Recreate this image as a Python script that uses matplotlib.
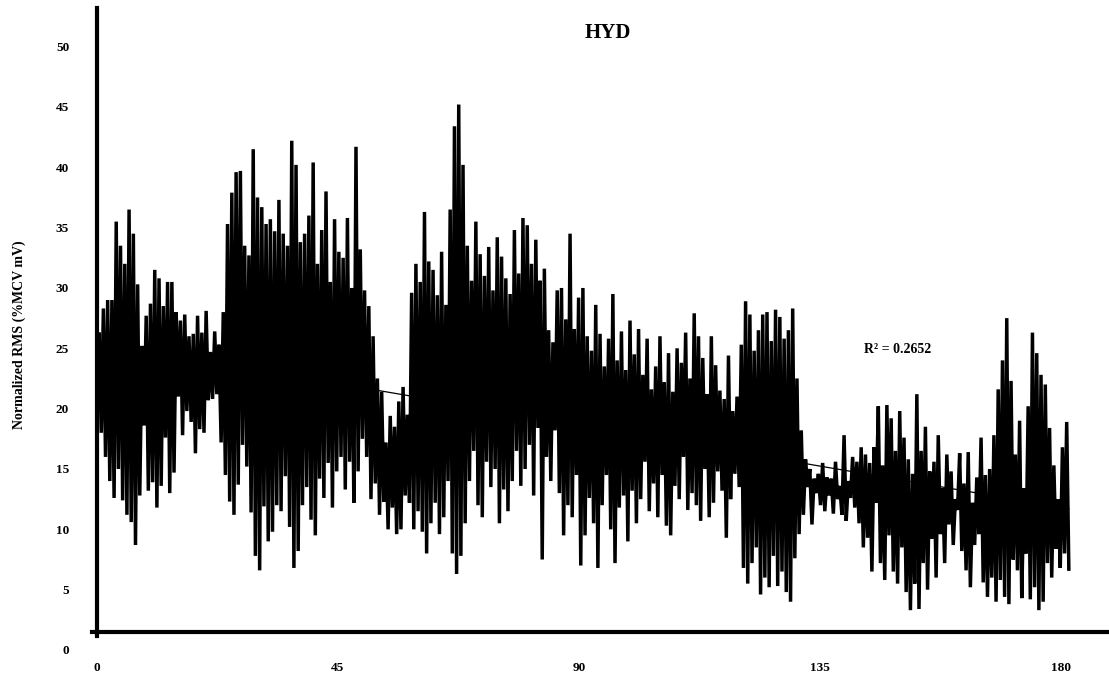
import numpy as np
import matplotlib
matplotlib.use("Agg")
import matplotlib.pyplot as plt

plt.rcParams["font.family"] = ["Liberation Serif", "DejaVu Serif"]
plt.rcParams["font.weight"] = "bold"

# normalized RMS, % of MCV, in stretches of the trial (seconds)
rms_0_7 = [22, 26.3, 18, 28.3, 16, 29, 14, 29, 12.6, 35.5, 15, 33.5, 12.4, 32, 11.2, 36.5, 10.6, 34.5]
rms_7_12 = [8.7, 30.3, 12.8, 25.2, 18.6, 27.7, 13.2, 28.7, 13.9, 31.5, 11.8, 30.8]
rms_12_23 = [13.6, 28.5, 17.6, 30.5, 13, 30.5, 14.7, 28, 21, 27.3, 17.8, 27.8, 19.8, 26,
             18.9, 26.2, 16.3, 27.7, 18.3, 26.3, 18, 28.1, 20.7, 24.7, 20.8, 26.4, 21.2, 25.3]
rms_23_30 = [17.2, 28, 14.5, 35.3, 12.3, 37.9, 11.2, 39.6, 13.7, 39.7, 17, 33.5, 15.2, 32.7,
             11.4, 41.5, 7.8, 37.5]
rms_30_50 = [6.6, 36.7, 11.9, 35.3, 9, 35.7, 9.8, 34.7, 12, 37.3, 11.5, 34.5, 14.4, 33.5,
             10.2, 42.2, 6.8, 40.2, 8.2, 33.8, 12, 34.5, 13.5, 36, 10.8, 40.4, 9.5, 32, 14.2,
             34.8, 12.6, 38, 15.5, 30.5, 11.8, 35.7, 14.8, 33, 16, 32.5, 13.3, 35.8, 15.6, 30,
             12.2, 41.7, 14.8, 33.2, 17.5, 29.8]
rms_50_58 = [16, 28.5, 12.5, 26, 13.8, 22.5, 11.2, 21.4, 12.3, 17.2, 10, 19.4, 11.8, 18.5,
             9.6, 20.6, 10, 21.8, 12.8, 19.5]
rms_58_67 = [12.2, 29.6, 10, 32, 11.5, 30.5, 9.8, 36.3, 8, 32.2, 10.5, 31.5, 12.2, 29.4,
             9.6, 33, 11, 28.6, 14, 36.5, 8, 43.4]
rms_67_75 = [6.3, 45.2, 7.8, 40.2, 10.5, 33.5, 14, 30.6, 16.5, 35.5, 12, 32.8, 11, 31,
             15.6, 33.4, 13.5, 29.8, 15, 34.2]
rms_75_90 = [10.5, 32.6, 13.3, 30.8, 11.5, 29.5, 14, 34.8, 16.5, 31.2, 13.6, 35.8, 15, 35.2,
             17, 32, 12.8, 34, 18.4, 30.6, 7.5, 31.6, 16, 26.5, 14, 25.5, 18.2, 29.8, 13, 30,
             9.5, 27.4, 12, 34.5, 11, 26.6, 14.5, 29.2]
rms_90_100 = [7, 30, 9.5, 26, 12.6, 24.8, 10.5, 28.6, 6.8, 26.2, 12, 23.5, 14.5, 25.8, 10,
              29.5, 7.2, 24, 11.8, 26.4, 12.8, 23.2, 9, 27.3, 13.2]
rms_100_120 = [24.5, 10.5, 26.6, 12.5, 22.8, 15.6, 25.8, 11.5, 21.6, 13.8, 23.5, 11, 26, 14.5,
               22.2, 10.3, 24.6, 9.5, 21.4, 13.6, 25, 12.5, 23.8, 16, 26.3, 11.6, 22.5, 13,
               27.9, 12, 26, 10.7, 24.2, 15, 21.2, 11, 26, 12.2, 23.6, 14.8, 21.5, 13.2, 20.8,
               9.3, 24.4, 12.5, 19.8, 14.6, 21, 13.5]
rms_120_128 = [25.3, 6.8, 28.9, 5.5, 27.8, 7.2, 24.8, 8.5, 26.5, 4.6, 27.8, 6, 28, 5.2, 25.6,
               7.8, 28.2, 5.3, 27.6, 6.5]
rms_128_136 = [25.8, 4.8, 26.5, 4, 28.3, 7.6, 22.5, 9.6, 18.2, 11.2, 15.8, 13.5, 15, 10.4,
               14.2, 13, 14.6, 12, 15.5, 11.5]
rms_136_142 = [14.3, 12.8, 14.2, 11.3, 15.6, 12.5, 13.6, 11.2, 17.8, 10.7, 14, 12.6, 16, 11.8, 15.6]
rms_142_160 = [10.5, 16.8, 8.5, 16.2, 9.3, 15.5, 6.5, 16.8, 12.2, 20.2, 7.2, 15.3, 5.8, 20.3,
               9.5, 19.2, 6.5, 16.5, 5.5, 19.8, 8.5, 17.6, 4.8, 15.8, 3.3, 14.6, 5.5, 21.2,
               3.4, 16.5, 7.2, 18.5, 5, 14.8, 9.2, 15.6, 6, 17.8, 9.6, 13.4, 7.2, 16.2, 10.4,
               14.8, 8.7]
rms_160_166 = [12.5, 11.6, 16.3, 8.2, 13.8, 6.6, 16.4, 5.2, 12.2, 8.7, 14.3, 9.6, 17.6, 5.6, 14.5]
rms_166_end = [4.4, 15, 6, 17.8, 4, 21.6, 5.8, 24, 4.4, 27.5, 3.8, 22.3, 7.5, 16.2, 6.6, 19,
               4.3, 13.4, 8, 20.2, 4.2, 26.3, 5.2, 24.6, 3.3, 22.8, 4, 22, 7.2, 18.4, 6, 15.3,
               8.4, 12.5, 6.8, 16.8, 8, 18.9, 6.7]

t_end = 181.5
x_ticks = [0, 45, 90, 135, 180]
y_ticks = [0, 5, 10, 15, 20, 25, 30, 35, 40, 45, 50]
r2_label = "R\u00b2 = 0.2652"

rms = np.concatenate([rms_0_7, rms_7_12, rms_12_23, rms_23_30, rms_30_50, rms_50_58,
                      rms_58_67, rms_67_75, rms_75_90, rms_90_100, rms_100_120, rms_120_128,
                      rms_128_136, rms_136_142, rms_142_160, rms_160_166, rms_166_end])
t = np.linspace(0, t_end, len(rms))

# linear trend over the whole trial
slope, icpt = np.polyfit(t, rms, 1)

fig = plt.figure(figsize=(11.09, 6.73), dpi=100)
ax = fig.add_axes([0.0826, 1 - 650 / 673, 1 - 0.0826, 642 / 673])

ax.plot(t, rms, color="black", lw=2.5, solid_joinstyle="miter")
ax.plot([0, t_end], [icpt, icpt + slope * t_end], color="black", lw=0.9)

ax.set_xlim(-1, 189)
ax.set_ylim(0, 53.2)

for s in ["top", "right"]:
    ax.spines[s].set_visible(False)
ax.spines["left"].set_position(("data", 0))
ax.spines["bottom"].set_position(("data", 1.5))
ax.spines["left"].set_bounds(1.2, 53.2)
ax.spines["left"].set_linewidth(3)
ax.spines["bottom"].set_linewidth(3)

ax.set_xticks(x_ticks)
ax.set_yticks(y_ticks)
ax.tick_params(axis="both", length=0, labelsize=9.5)
ax.tick_params(axis="y", pad=20)
ax.tick_params(axis="x", pad=22)

fig.text(0.017, 1 - 335 / 673, "Normalized RMS (%MCV mV)", rotation=90,
         ha="center", va="center", fontsize=10, fontweight="bold")
fig.text(608 / 1109, 1 - 33 / 673, "HYD", ha="center", va="center",
         fontsize=15, fontweight="bold")
ax.text(149.5, 24.9, r2_label, ha="center", va="center", fontsize=10, fontweight="bold")

fig.savefig("out.png", dpi=100)
